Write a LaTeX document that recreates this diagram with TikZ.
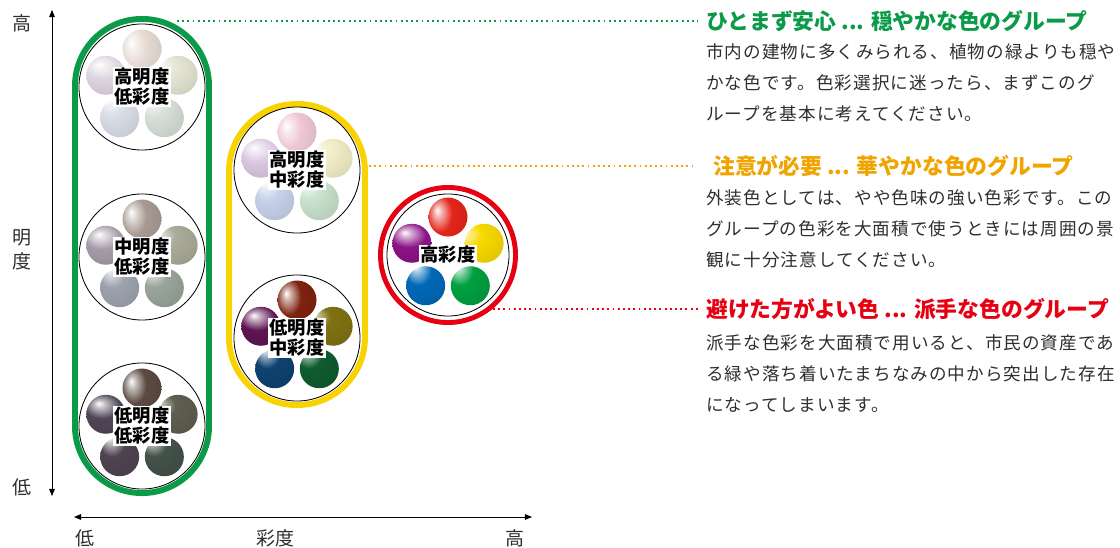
\documentclass[tikz,border=0pt]{standalone}
\usepackage{fontspec}
\setmainfont{Noto Sans CJK JP}
\newfontfamily\bodyfont{Noto Sans CJK JP}[LetterSpace=6]
\usetikzlibrary{arrows.meta}

\definecolor{calm}{HTML}{0A9A48}
\definecolor{care}{HTML}{F8D300}
\definecolor{carehead}{HTML}{EFA400}
\definecolor{loud}{HTML}{E60012}
\definecolor{ink}{HTML}{2E2E2E}

% ball colours: top, right, lower right, lower left, left
\definecolor{hlA}{HTML}{E6DAD3}\definecolor{hlB}{HTML}{E6E6D6}\definecolor{hlC}{HTML}{D6E0D8}
\definecolor{hlD}{HTML}{D8DDE8}\definecolor{hlE}{HTML}{DCD3DE}
\definecolor{mlA}{HTML}{A89A92}\definecolor{mlB}{HTML}{ABAB9B}\definecolor{mlC}{HTML}{99A59B}
\definecolor{mlD}{HTML}{9DA3AE}\definecolor{mlE}{HTML}{A49AA8}
\definecolor{llA}{HTML}{5C4A42}\definecolor{llB}{HTML}{605E50}\definecolor{llC}{HTML}{43524A}
\definecolor{llD}{HTML}{4E4450}\definecolor{llE}{HTML}{4E4656}
\definecolor{hmA}{HTML}{EFC7D4}\definecolor{hmB}{HTML}{F3EFC8}\definecolor{hmC}{HTML}{C8E2CC}
\definecolor{hmD}{HTML}{C6D2EA}\definecolor{hmE}{HTML}{D9C6DF}
\definecolor{lmA}{HTML}{7E2210}\definecolor{lmB}{HTML}{807212}\definecolor{lmC}{HTML}{0E5C30}
\definecolor{lmD}{HTML}{0E4270}\definecolor{lmE}{HTML}{5E1452}
\definecolor{hsA}{HTML}{E3251A}\definecolor{hsB}{HTML}{F8DA00}\definecolor{hsC}{HTML}{00A040}
\definecolor{hsD}{HTML}{0068B5}\definecolor{hsE}{HTML}{8A1286}

% soft glossy ball
\colorlet{orb}{white}
\pgfdeclareradialshading[orb]{orb}{\pgfqpoint{-14bp}{14bp}}{%
  color(0bp)=(white); color(5bp)=(orb!35!white); color(16bp)=(orb);
  color(42bp)=(orb!88!black); color(70bp)=(orb!72!black)}

% five balls round a ring
\newcommand\orbs[2]{%
  \foreach \col [count=\k from 0] in {#2}
    \shade[orb=\col] (#1.center) ++(-90+72*\k:38) circle (19.5);}

\begin{document}
\begin{tikzpicture}[x=0.025cm, y=-0.025cm,
    orb/.style={/utils/exec={\colorlet{orb}{#1}}, shading=orb},
    capsule/.style={draw=#1, line width=4.2pt, inner sep=0},
    ring/.style={circle, draw, line width=0.6pt, minimum size=3.15cm, inner sep=0},
    tag/.style={fill=white, inner sep=1pt, align=center,
      font=\bfseries\fontsize{13}{14.2}\selectfont},
    head/.style={anchor=west, inner sep=0, font=\bfseries\fontsize{15.5}{18}\selectfont},
    body/.style={anchor=north west, inner sep=0, align=left, text=ink,
      font=\bodyfont\fontsize{12.5}{22.3}\selectfont},
    axlabel/.style={inner sep=0, align=center, text=ink, font=\fontsize{13.5}{17}\selectfont},
    axis/.style={line width=0.6pt, {Triangle[length=5pt,width=4pt]}-{Triangle[length=5pt,width=4pt]}},
    dotline/.style={line width=1.3pt, dash pattern=on 1.3pt off 2.4pt},
    ]
\useasboundingbox (0,0) rectangle (1120,547);

% axes
\coordinate (v-hi) at (52,10);
\coordinate (v-lo) at (52,496);
\coordinate (h-lo) at (74,517);
\coordinate (h-hi) at (532,517);
\draw[axis] (v-lo) -- (v-hi);
\draw[axis] (h-lo) -- (h-hi);
\node[axlabel] (v-hi-text) at (22,23) {高};
\node[axlabel] (v-name) at (22,250) {明\\度};
\node[axlabel] (v-lo-text) at (22,487) {低};
\node[axlabel] (h-lo-text) at (85,538) {低};
\node[axlabel] (h-name) at (275,538) {彩度};
\node[axlabel] (h-hi-text) at (515,538) {高};

% groups
\node[capsule=calm, minimum width=3.35cm, minimum height=11.85cm,
  rounded corners=1.67cm] (grp-calm) at (142,256) {};
\node[capsule=care, minimum width=3.4cm, minimum height=7.525cm,
  rounded corners=1.69cm] (grp-care) at (297,254.5) {};
\node[circle, draw=loud, line width=3.5pt, minimum size=3.375cm, inner sep=0]
  (grp-loud) at (448,255) {};

% rings of balls
\node[ring] (hl) at (142,87) {};
\node[ring] (ml) at (142,257) {};
\node[ring] (ll) at (142,426) {};
\node[ring] (hm) at (297,170) {};
\node[ring] (lm) at (297,338) {};
\node[ring, minimum size=3.05cm] (hs) at (448,255) {};

\orbs{hl}{hlA,hlB,hlC,hlD,hlE}
\orbs{ml}{mlA,mlB,mlC,mlD,mlE}
\orbs{ll}{llA,llB,llC,llD,llE}
\orbs{hm}{hmA,hmB,hmC,hmD,hmE}
\orbs{lm}{lmA,lmB,lmC,lmD,lmE}
\orbs{hs}{hsA,hsB,hsC,hsD,hsE}

\node[tag] (hl-tag) at (hl) {高明度\\低彩度};
\node[tag] (ml-tag) at (ml) {中明度\\低彩度};
\node[tag] (ll-tag) at (ll) {低明度\\低彩度};
\node[tag] (hm-tag) at (hm) {高明度\\中彩度};
\node[tag] (lm-tag) at (lm) {低明度\\中彩度};
\node[tag] (hs-tag) at (hs) {高彩度};

% notes
\node[head, text=calm] (calm-title) at (706,21) {ひとまず安心 ... 穏やかな色のグループ};
\node[body] (calm-text) at (706,43) {市内の建物に多くみられる、植物の緑よりも穏や\\
  かな色です。色彩選択に迷ったら、まずこのグ\\ループを基本に考えてください。};
\node[head, text=carehead] (care-title) at (713,166) {注意が必要 ... 華やかな色のグループ};
\node[body] (care-text) at (706,189) {外装色としては、やや色味の強い色彩です。この\\
  グループの色彩を大面積で使うときには周囲の景\\観に十分注意してください。};
\node[head, text=loud] (loud-title) at (706,309) {避けた方がよい色 ... 派手な色のグループ};
\node[body] (loud-text) at (706,334) {派手な色彩を大面積で用いると、市民の資産であ\\
  る緑や落ち着いたまちなみの中から突出した存在\\になってしまいます。};

% leaders
\coordinate (calm-from) at (177,21);
\coordinate (care-from) at (369,166);
\draw[dotline, calm, shorten >=0.2cm] (calm-from) -- (calm-title);
\draw[dotline, carehead, shorten >=0.45cm] (care-from) -- (care-title);
\draw[dotline, loud, shorten >=0.15cm] (grp-loud.-50) -- (grp-loud.-50 -| loud-title.west);
\end{tikzpicture}
\end{document}
